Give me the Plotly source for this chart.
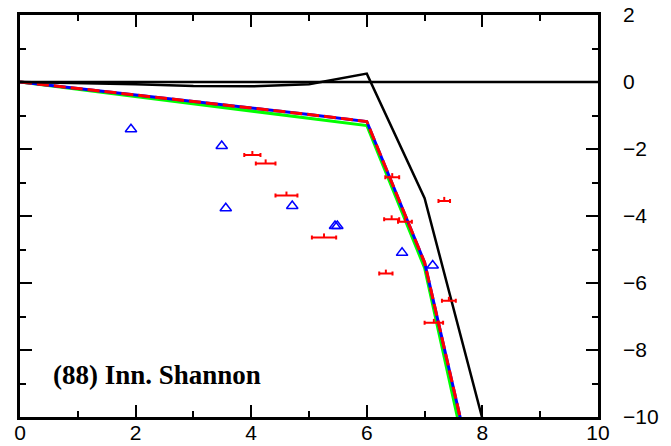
import plotly.graph_objects as go

# Model curves
x_grid = [0, 1, 2, 3, 4, 5, 6, 7, 8]
black_y = [0, -0.03, -0.07, -0.12, -0.13, -0.07, 0.25, -3.47, -10.05]
blue_y = [0, -0.19, -0.39, -0.58, -0.78, -0.97, -1.18, -5.39, -12.9]
red_y = [0, -0.19, -0.39, -0.58, -0.78, -0.97, -1.18, -5.39, -12.9]
green_y = [0, -0.22, -0.44, -0.65, -0.87, -1.08, -1.30, -5.55, -13.4]

# Reference zero line
zero_x = [0, 10]
zero_y = [0, 0]

# Triangle data
tri_x = [1.92, 3.49, 3.56, 4.71, 5.45, 5.49, 6.61, 7.14]
tri_y = [-1.41, -1.91, -3.77, -3.70, -4.30, -4.30, -5.10, -5.48]

# Red data with horizontal errors
red_px = [4.02, 4.25, 4.61, 5.26, 6.44, 7.34, 6.43, 6.66, 6.33, 7.42, 7.16]
red_py = [-2.18, -2.43, -3.39, -4.64, -2.84, -3.55, -4.10, -4.17, -5.72, -6.53, -7.19]
red_xerr = [0.14, 0.17, 0.19, 0.21, 0.12, 0.10, 0.13, 0.12, 0.115, 0.12, 0.16]

label_text = "(88) Inn. Shannon"

fig = go.Figure()
fig.add_trace(go.Scatter(x=zero_x, y=zero_y, mode="lines",
                         line=dict(color="black", width=2.5), showlegend=False))
fig.add_trace(go.Scatter(x=x_grid, y=green_y, mode="lines",
                         line=dict(color="#00ff00", width=3), showlegend=False))
fig.add_trace(go.Scatter(x=x_grid, y=blue_y, mode="lines",
                         line=dict(color="#0000ff", width=3), showlegend=False))
fig.add_trace(go.Scatter(x=x_grid, y=red_y, mode="lines",
                         line=dict(color="#ff0000", width=3, dash="12px,5px"), showlegend=False))
fig.add_trace(go.Scatter(x=x_grid, y=black_y, mode="lines",
                         line=dict(color="black", width=2.5), showlegend=False))
fig.add_trace(go.Scatter(x=tri_x, y=tri_y, mode="markers",
                         marker=dict(symbol="triangle-up-open", size=10, color="#0000ff",
                                     line=dict(width=1.5, color="#0000ff")),
                         showlegend=False))
fig.add_trace(go.Scatter(x=red_px, y=red_py, mode="markers",
                         marker=dict(size=1, color="#ff0000"),
                         error_x=dict(type="data", array=red_xerr, color="#ff0000",
                                      thickness=2, width=2),
                         error_y=dict(type="data", symmetric=False,
                                      array=[0.12] * len(red_px), arrayminus=[0] * len(red_px),
                                      color="#ff0000", thickness=2, width=0),
                         showlegend=False))

fig.add_annotation(x=0.54, y=-8.75, xref="x", yref="y", text=label_text,
                   showarrow=False, xanchor="left", yanchor="middle",
                   font=dict(family="Liberation Serif", size=27, color="black", weight="bold"))

axis_common = dict(showgrid=False, zeroline=False, showline=True, linecolor="black",
                   linewidth=2.5, mirror="ticks", ticks="inside", ticklen=12,
                   tickwidth=1.5, tickcolor="black", automargin=False,
                   tickfont=dict(family="Liberation Sans", size=21, color="black"))

fig.update_xaxes(range=[0, 10], dtick=2, tick0=0, ticklabelstandoff=-5,
                 minor=dict(dtick=1, ticks="inside", ticklen=6, tickwidth=1.5, tickcolor="black"),
                 **axis_common)
fig.update_yaxes(range=[-10, 2], dtick=2, tick0=0, side="right", ticklabelstandoff=18,
                 minor=dict(dtick=1, ticks="inside", ticklen=6, tickwidth=1.5, tickcolor="black"),
                 **axis_common)

fig.update_layout(width=671, height=446, margin=dict(l=20, r=73, t=15, b=29),
                  plot_bgcolor="white", paper_bgcolor="white", template="none")

fig.write_html("out.html", config={"displayModeBar": False},
               post_script="document.body.style.margin='0';document.body.style.padding='0';"
                           "document.body.style.overflow='hidden';")
